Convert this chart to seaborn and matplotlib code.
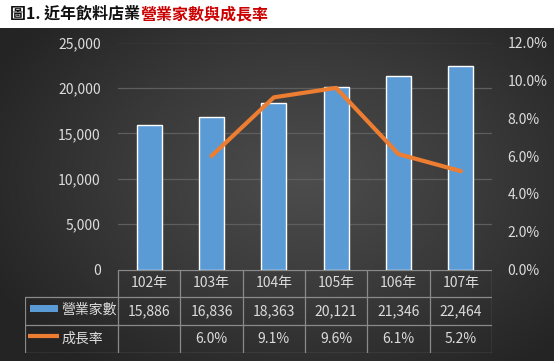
import numpy as np
import matplotlib
matplotlib.use('Agg')
import matplotlib.pyplot as plt
import seaborn as sns
from matplotlib.colors import LinearSegmentedColormap
from matplotlib.patches import Rectangle

years = ['102年', '103年', '104年', '105年', '106年', '107年']
stores = [15886, 16836, 18363, 20121, 21346, 22464]
growth = [np.nan, 6.0, 9.1, 9.6, 6.1, 5.2]
series_names = ['營業家數', '成長率']

sns.set_style('dark')
plt.rcParams['font.family'] = ['Noto Sans CJK TC', 'DejaVu Sans']

W, H = 554, 361
TXT = '#dcdcdc'
GRID = '#5e5e5e'
BORDER = '#8a8a8a'
BLUE = '#5b9bd5'
ORANGE = '#ed7d31'


def px(x0, y0, x1, y1):
    # pixel box -> figure fraction rect
    return [x0 / W, 1 - y1 / H, (x1 - x0) / W, (y1 - y0) / H]


fig = plt.figure(figsize=(W / 100, H / 100), dpi=100)
fig.patch.set_facecolor('white')

# dark radial background
bg = fig.add_axes(px(0, 28, W, H))
yy, xx = np.mgrid[0:1:200j, 0:1:300j]
r = np.sqrt(((xx - 0.55) / 0.75) ** 2 + ((yy - 0.45) / 0.85) ** 2)
cmap = LinearSegmentedColormap.from_list('bg', ['#4d4d4d', '#3a3a3a', '#242424'])
bg.imshow(r, cmap=cmap, aspect='auto', extent=[0, 1, 1, 0], vmin=0, vmax=0.85)
bg.set_axis_off()

# title, two colours
t1 = fig.text(10 / W, 1 - 14 / H, '圖1. 近年飲料店業', fontsize=11.5, fontweight='bold',
              color='#111111', va='center', ha='left')
fig.canvas.draw()
bb = t1.get_window_extent(fig.canvas.get_renderer())
fig.text(bb.x1 / W, 1 - 14 / H, '營業家數與成長率', fontsize=11.5, fontweight='bold',
         color='#cc0000', va='center', ha='left')

# main chart
ax = fig.add_axes(px(118, 42.5, 492, 269.5))
ax.set_facecolor('none')
sns.barplot(x=years, y=stores, color=BLUE, width=0.4, saturation=1, ax=ax)
ax.set_ylim(0, 25000)
ax.set_yticks(range(0, 25001, 5000))
ax.yaxis.set_major_formatter(matplotlib.ticker.FuncFormatter(lambda v, p: f'{v:,.0f}'))
ax.grid(axis='y', color=GRID, lw=0.9)
ax.grid(axis='x', visible=False)
ax.set_axisbelow(True)
ax.tick_params(axis='y', length=0, pad=12.5, labelsize=10, labelcolor=TXT)
ax.tick_params(axis='x', length=0, labelbottom=False)
ax.set_xlabel('')
ax.set_ylabel('')
for s in ax.spines.values():
    s.set_visible(False)

ax2 = ax.twinx()
sns.lineplot(x=np.arange(len(years)), y=growth, color=ORANGE, lw=3, ax=ax2)
ax2.set_ylim(0, 12)
ax2.set_yticks(range(0, 13, 2))
ax2.yaxis.set_major_formatter(matplotlib.ticker.FuncFormatter(lambda v, p: f'{v:.1f}%'))
ax2.tick_params(axis='y', length=0, pad=11, labelsize=10, labelcolor=TXT)
ax2.grid(False)
for s in ax2.spines.values():
    s.set_visible(False)
ax.set_xlim(-0.5, 5.5)

# data table under the chart
colw = (492 - 118) / 6
xl = -0.5 - (118 - 25) / colw
tb = fig.add_axes(px(25, 269.5, 492, 352.5))
tb.set_facecolor('none')
tb.set_xlim(xl, 5.5)
tb.set_ylim(3, 0)
tb.set_axis_off()


def dx(xpix):
    return -0.5 + (xpix - 118) / colw


lk = dict(color=BORDER, lw=0.9)
tb.plot([-0.5, 5.5], [0, 0], **lk)
for yv in (1, 2, 3):
    tb.plot([xl, 5.5], [yv, yv], **lk)
for k in range(7):
    tb.plot([-0.5 + k, -0.5 + k], [0, 3], **lk)
tb.plot([xl, xl], [1, 3], **lk)

for i, yr in enumerate(years):
    tb.text(i, 0.5, yr, ha='center', va='center', fontsize=10, color=TXT)
    tb.text(i, 1.5, f'{stores[i]:,}', ha='center', va='center', fontsize=10, color=TXT)
    if not np.isnan(growth[i]):
        tb.text(i, 2.5, f'{growth[i]:.1f}%', ha='center', va='center', fontsize=10, color=TXT)

# legend keys in first column
tb.add_patch(Rectangle((dx(30), 1.28), dx(58) - dx(30), 0.27, color=BLUE, lw=0))
tb.plot([dx(28), dx(59)], [2.4, 2.4], color=ORANGE, lw=3, solid_capstyle='butt')
tb.text(dx(61), 1.45, series_names[0], ha='left', va='center', fontsize=10, color=TXT)
tb.text(dx(61), 2.5, series_names[1], ha='left', va='center', fontsize=10, color=TXT)

fig.savefig('out.png', dpi=100)
